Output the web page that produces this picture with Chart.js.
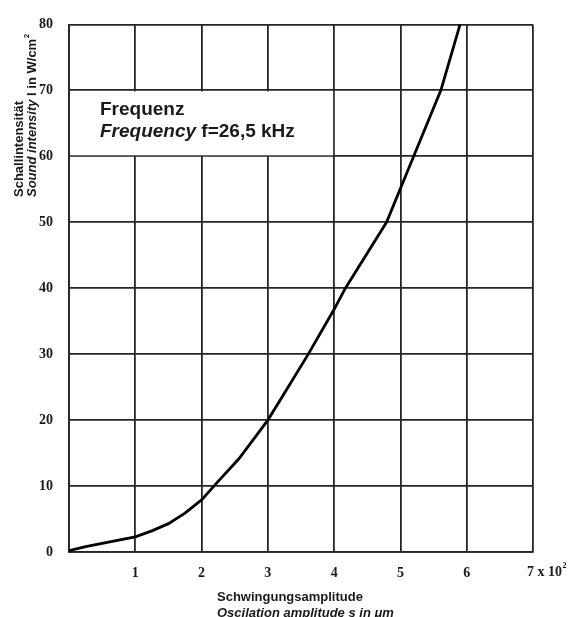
<!DOCTYPE html>
<html>
<head>
<meta charset="utf-8">
<script src="https://cdn.jsdelivr.net/npm/chart.js@4"></script>
<style>
html,body{margin:0;padding:0;background:#fff;}
#wrap{position:relative;width:569px;height:617px;}
</style>
</head>
<body>
<div id="wrap"><canvas id="c"></canvas></div>
<script>
// Data
const amplitudeX = [0, 0.25, 0.5, 0.75, 1, 1.25, 1.5, 1.75, 2, 2.25, 2.56, 2.8, 3, 3.3, 3.61, 4, 4.17, 4.79, 5.2, 5.61, 5.9];
const intensityY = [0.2, 0.8, 1.3, 1.8, 2.3, 3.2, 4.3, 5.9, 7.9, 10.7, 14.1, 17.3, 20, 24.9, 30, 36.8, 40, 50, 60, 70, 80];
const xTicks = [0, 1, 2, 3, 4, 5, 6, 7];
const yTicks = [0, 10, 20, 30, 40, 50, 60, 70, 80];
const lastXTickLabel = ['7 x 10', '2'];
const yTitleLine1 = 'Schallintensität';
const yTitleLine2 = ['Sound intensity', ' I in W/cm', '2'];
const xTitleLine1 = 'Schwingungsamplitude';
const xTitleLine2 = 'Oscilation amplitude s in μm';
const boxLine1 = 'Frequenz';
const boxLine2 = ['Frequency', ' f=26,5 kHz'];

const points = amplitudeX.map((x, i) => ({x: x, y: intensityY[i]}));
const GRID = '#262626';
const TXT = '#1a1a1a';
const SANS = '"Liberation Sans", Arial, sans-serif';
const SERIF = '"Liberation Serif", "Times New Roman", serif';

const decor = {
  id: 'decor',
  beforeDatasetsDraw(chart) {
    const ctx = chart.ctx, xs = chart.scales.x, ys = chart.scales.y;
    // white label box covering the grid between 60 and 70, from 0 to 4
    const x0 = xs.getPixelForValue(0), x4 = xs.getPixelForValue(4);
    const y70 = ys.getPixelForValue(70), y60 = ys.getPixelForValue(60);
    ctx.save();
    ctx.fillStyle = '#fff';
    ctx.fillRect(x0 + 1, y70 + 1, x4 - x0 - 2, y60 - y70 - 2);
    ctx.fillStyle = TXT;
    ctx.textBaseline = 'middle';
    ctx.textAlign = 'left';
    ctx.font = 'bold 19px ' + SANS;
    ctx.fillText(boxLine1, x0 + 31, y70 + 19);
    ctx.font = 'italic bold 19px ' + SANS;
    ctx.fillText(boxLine2[0], x0 + 31, y70 + 41);
    const w = ctx.measureText(boxLine2[0]).width;
    ctx.font = 'bold 19px ' + SANS;
    ctx.fillText(boxLine2[1], x0 + 31 + w, y70 + 41);
    ctx.restore();
  },
  afterDraw(chart) {
    const ctx = chart.ctx, xs = chart.scales.x, ys = chart.scales.y;
    ctx.save();
    ctx.fillStyle = TXT;
    // last x tick label "7 x 10²"
    const x7 = xs.getPixelForValue(7);
    ctx.textBaseline = 'middle';
    ctx.textAlign = 'left';
    ctx.font = 'bold 14px ' + SERIF;
    ctx.fillText(lastXTickLabel[0], x7 - 6, 572);
    const lw = ctx.measureText(lastXTickLabel[0]).width;
    ctx.font = 'bold 8px ' + SERIF;
    ctx.fillText(lastXTickLabel[1], x7 - 6 + lw + 0.5, 566);

    // y axis title (rotated)
    ctx.save();
    ctx.translate(19, 197);
    ctx.rotate(-Math.PI / 2);
    ctx.font = 'bold 13px ' + SANS;
    ctx.fillText(yTitleLine1, 0, 0);
    ctx.restore();
    ctx.save();
    ctx.translate(32, 197);
    ctx.rotate(-Math.PI / 2);
    ctx.font = 'italic bold 13px ' + SANS;
    ctx.fillText(yTitleLine2[0], 0, 0);
    let off = ctx.measureText(yTitleLine2[0]).width;
    ctx.font = 'bold 13px ' + SANS;
    ctx.fillText(yTitleLine2[1], off, 0);
    off += ctx.measureText(yTitleLine2[1]).width;
    ctx.font = 'bold 8px ' + SANS;
    ctx.fillText(yTitleLine2[2], off + 0.5, -5);
    ctx.restore();

    // x axis title
    ctx.font = 'bold 13px ' + SANS;
    ctx.fillText(xTitleLine1, 217, 597);
    ctx.font = 'italic bold 13px ' + SANS;
    ctx.fillText(xTitleLine2, 217, 613);
    ctx.restore();
  }
};

new Chart(document.getElementById('c'), {
  type: 'scatter',
  data: {
    datasets: [{
      data: points,
      showLine: true,
      borderColor: '#000',
      borderWidth: 2.8,
      pointRadius: 0,
      pointHoverRadius: 0,
      tension: 0,
      fill: false
    }]
  },
  options: {
    responsive: true,
    maintainAspectRatio: false,
    animation: false,
    events: [],
    layout: {padding: {left: 0, top: 20, right: 36, bottom: 0}},
    plugins: {legend: {display: false}, tooltip: {enabled: false}, title: {display: false}},
    scales: {
      x: {
        type: 'linear', min: 0, max: 7,
        afterBuildTicks(s) { s.ticks = xTicks.map(v => ({value: v})); },
        afterFit(s) { s.height = 65; },
        grid: {color: GRID, lineWidth: 1.8, drawTicks: false},
        border: {display: true, color: GRID, width: 1.8},
        ticks: {
          padding: 13, color: TXT, maxRotation: 0, autoSkip: false,
          font: {family: SERIF, size: 14, weight: 'bold'},
          callback: v => (v === 0 || v === 7) ? '' : String(v)
        }
      },
      y: {
        type: 'linear', min: 0, max: 80,
        afterBuildTicks(s) { s.ticks = yTicks.map(v => ({value: v})); },
        afterFit(s) { s.width = 69; },
        grid: {color: GRID, lineWidth: 1.8, drawTicks: false},
        border: {display: true, color: GRID, width: 1.8},
        ticks: {
          padding: 16, color: TXT,
          font: {family: SERIF, size: 14, weight: 'bold'},
          callback: v => String(v)
        }
      }
    }
  },
  plugins: [decor]
});
</script>
</body>
</html>
